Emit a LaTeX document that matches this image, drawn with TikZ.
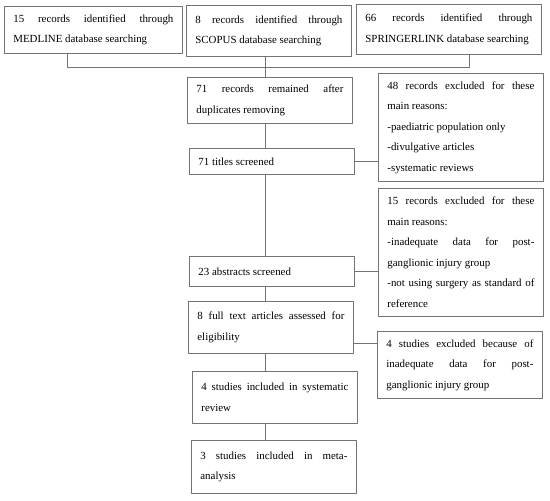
\documentclass[tikz,border=0pt]{standalone}
\usepackage{fontspec}
\setmainfont{Liberation Serif}
\usepackage{tikz}
\definecolor{wwwwww}{rgb}{0.45,0.45,0.45}
\tikzset{box/.style={draw=wwwwww,line width=0.8pt,anchor=north west,inner xsep=9pt,inner ysep=0pt,align=justify,font=\fontsize{10.9}{20.5}\selectfont}}

\begin{document}
\begin{tikzpicture}[line cap=round,line join=round,x=1pt,y=-1pt]
\useasboundingbox (0,0) rectangle (550,501);

% databases
\node[box,text width=160pt,minimum height=47pt] (medline) at (4,6) {15 records identified through\linebreak MEDLINE database searching};
\node[box,text width=147pt,minimum height=51pt] (scopus) at (186,5) {8 records identified through\linebreak SCOPUS database searching};
\node[box,text width=167pt,minimum height=50pt] (springer) at (356,4) {66 records identified through\linebreak SPRINGERLINK database searching};
\coordinate (j1) at (67,67);
\coordinate (j2) at (265.5,67);
\coordinate (j3) at (469,67);

% screening
\node[box,text width=147pt,minimum height=46pt] (remained) at (187,77) {71 records remained after\linebreak duplicates removing};
\node[box,text width=147pt,minimum height=26pt] (titles) at (189,148) {71 titles screened};
\node[box,text width=147pt,minimum height=30pt] (abstracts) at (189,256) {23 abstracts screened};
\node[box,text width=147pt,minimum height=52pt] (fulltext) at (188,301) {8 full text articles assessed for\linebreak eligibility};
\node[box,text width=147pt,minimum height=52pt] (review) at (192,371) {4 studies included in systematic\linebreak review};
\node[box,text width=147pt,minimum height=53pt] (meta) at (191,440) {3 studies included in meta-\linebreak analysis};

% exclusions
\node[box,text width=147pt,minimum height=108pt] (excl1) at (378,73) {48 records excluded for these\linebreak main reasons:\\ -paediatric population only\\ -divulgative articles\\ -systematic reviews};
\node[box,text width=147pt,minimum height=128pt] (excl2) at (378,188) {15 records excluded for these\linebreak main reasons:\\ -inadequate data for post-\linebreak ganglionic injury group\\ -not using surgery as standard of\linebreak reference};
\node[box,text width=147pt,minimum height=67pt] (excl3) at (377,331) {4 studies excluded because of\linebreak inadequate data for post-\linebreak ganglionic injury group};

\draw[wwwwww,line width=0.8pt] (medline.south -| j1) -- (j1) -- (j3) -- (springer.south -| j3);
\draw[wwwwww,line width=0.8pt] (scopus.south -| j2) -- (remained.north -| j2);
\draw[wwwwww,line width=0.8pt] (remained.south -| j2) -- (titles.north -| j2);
\draw[wwwwww,line width=0.8pt] (titles.south -| j2) -- (abstracts.north -| j2);
\draw[wwwwww,line width=0.8pt] (abstracts.south -| j2) -- (fulltext.north -| j2);
\draw[wwwwww,line width=0.8pt] (fulltext.south -| j2) -- (review.north -| j2);
\draw[wwwwww,line width=0.8pt] (review.south -| j2) -- (meta.north -| j2);
%\draw (titles.east) -- (excl1.west);
\draw[wwwwww,line width=0.8pt] (titles.east) -- (titles.east -| excl1.west);
\draw[wwwwww,line width=0.8pt] (abstracts.east) -- (abstracts.east -| excl2.west);
\draw[wwwwww,line width=0.8pt] ([yshift=-16pt]fulltext.east) -- ([yshift=-16pt]fulltext.east -| excl3.west);

\end{tikzpicture}
\end{document}
